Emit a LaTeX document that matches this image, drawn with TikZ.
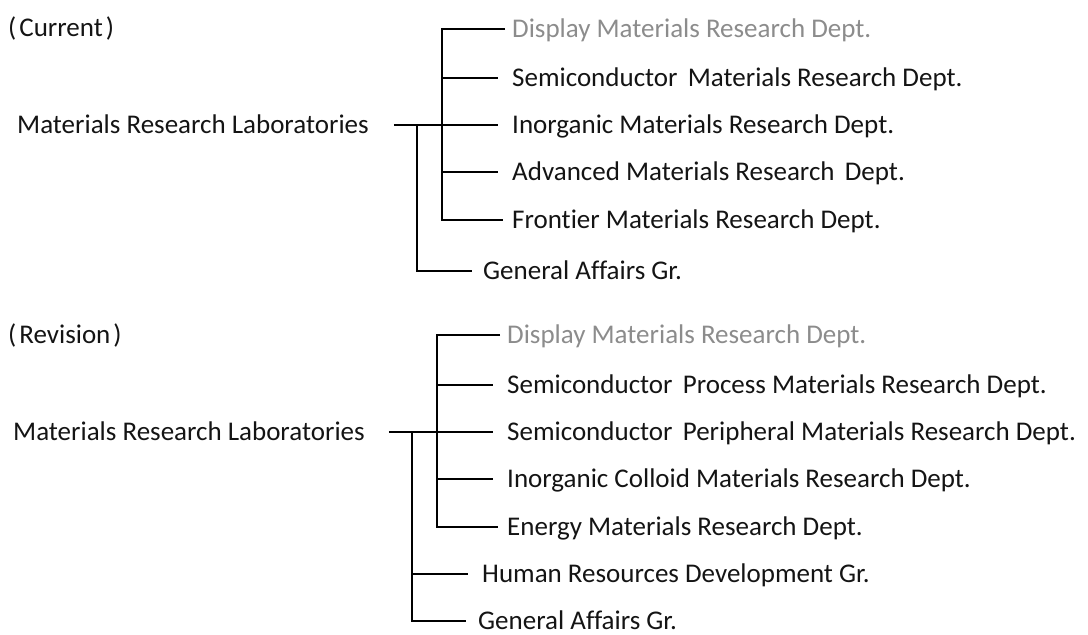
\documentclass[tikz,border=0pt]{standalone}
\usepackage{fontspec}
\setmainfont{Carlito}[Ligatures=NoCommon]
\usetikzlibrary{positioning}
\tikzset{
    unit/.style = {anchor=west,inner sep=0,text height=17pt,text depth=0pt,font=\fontsize{27}{31}\selectfont,text=black!92},
    faded/.style = {unit,text=black!45},
    branch/.style = {line width=2.3pt},
    stem/.style = {line width=1.5pt}
}
\newcommand*\wsp{\hspace{0.38em}}

\begin{document}
\begin{tikzpicture}[x=1pt,y=-1pt]
    \useasboundingbox (0,0) rectangle (1088,635);
    % Current
    \node[unit] (cur) at (8,28) {(\kern3pt Current\kern3pt)};
    \node[unit] (lab1) at (17,125) {Materials Research Laboratories};
    \node[faded] (c1) at (512,29) {Display Materials Research Dept.};
    \node[unit] (c2) at (512,78) {Semiconductor\wsp Materials Research Dept.};
    \node[unit] (c3) at (512,125) {Inorganic Materials Research Dept.};
    \node[unit] (c4) at (512,172) {Advanced Materials Research\wsp Dept.};
    \node[unit] (c5) at (512,220) {Frontier Materials Research Dept.};
    \node[unit] (cg) at (483,271) {General Affairs Gr.};
    \coordinate (cj) at (417,125);
    \draw[stem] ([xshift=25pt]lab1.east) -- ([xshift=-14pt]c3.west);
    \draw[branch] ([xshift=-7pt]c1.west) -| ([xshift=-70pt]c5.west) -- ([xshift=-9pt]c5.west);
    \foreach \n in {c2,c4}
        \draw[branch] ([xshift=-70pt]\n.west) -- ([xshift=-14pt]\n.west);
    \draw[branch] (cj) |- ([xshift=-11pt]cg.west);
    % Revision
    \node[unit] (rev) at (8,335) {(\kern3pt Revision\kern3pt)};
    \node[unit] (lab2) at (13,432) {Materials Research Laboratories};
    \node[faded] (r1) at (507,335) {Display Materials Research Dept.};
    \node[unit] (r2) at (507,385) {Semiconductor\wsp Process Materials Research Dept.};
    \node[unit] (r3) at (507,432) {Semiconductor\wsp Peripheral Materials Research Dept.};
    \node[unit] (r4) at (507,479) {Inorganic Colloid Materials Research Dept.};
    \node[unit] (r5) at (507,527) {Energy Materials Research Dept.};
    \node[unit] (rh) at (482,574) {Human Resources Development Gr.};
    \node[unit] (rg) at (478,621) {General Affairs Gr.};
    \coordinate (rj) at (412,432);
    \draw[stem] ([xshift=24pt]lab2.east) -- ([xshift=-14pt]r3.west);
    \draw[branch] ([xshift=-7pt]r1.west) -| ([xshift=-70pt]r5.west) -- ([xshift=-9pt]r5.west);
    \foreach \n in {r2,r4}
        \draw[branch] ([xshift=-70pt]\n.west) -- ([xshift=-14pt]\n.west);
    \draw[branch] (rj) |- ([xshift=-14pt]rh.west);
    \draw[branch] (rj) |- ([xshift=-12pt]rg.west);
\end{tikzpicture}
\end{document}
